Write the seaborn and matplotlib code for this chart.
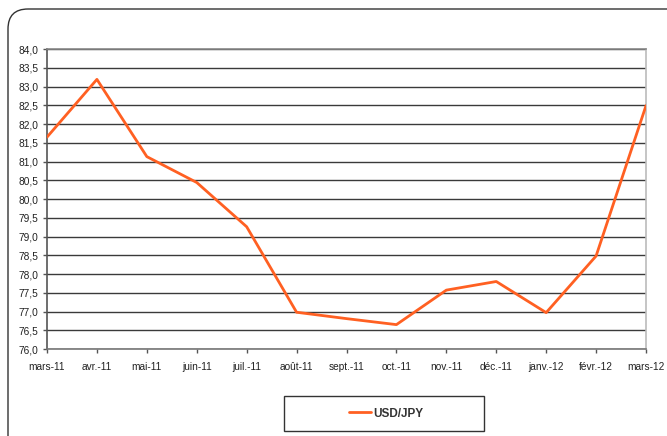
import matplotlib
matplotlib.use("Agg")
import numpy as np
import pandas as pd
import seaborn as sns
import matplotlib.pyplot as plt
from matplotlib.patches import FancyBboxPatch, Rectangle

# monthly USD/JPY values
months = ['mars-11', 'avr.-11', 'mai-11', 'juin-11', 'juil.-11', 'août-11', 'sept.-11',
          'oct.-11', 'nov.-11', 'déc.-11', 'janv.-12', 'févr.-12', 'mars-12']
usd_jpy = [81.65, 83.19, 81.13, 80.44, 79.26, 76.98, 76.81,
           76.65, 77.57, 77.80, 76.97, 78.48, 82.49]
y_ticks = np.arange(76.0, 84.01, 0.5)

df = pd.DataFrame({'idx': range(len(months)), 'USD/JPY': usd_jpy})

sns.set_style("white")
plt.rcParams['font.family'] = ['Liberation Sans', 'DejaVu Sans']

W, H = 667, 436
fig = plt.figure(figsize=(W / 100, H / 100), dpi=100)
ax = fig.add_axes([47 / W, 1 - 349 / H, (646 - 47) / W, 300 / H])

# rounded frame round the whole chart (cut off at right/bottom)
frame = FancyBboxPatch((8 / W, -0.05), 1.05, 1 - 9 / H + 0.05,
                       boxstyle="round,pad=0,rounding_size=0.03",
                       transform=fig.transFigure, fill=False,
                       edgecolor='#333333', linewidth=1.0, mutation_aspect=W / H)
fig.patches.append(frame)

# legend box
fig.patches.append(Rectangle((284 / W, 1 - 431 / H), 200 / W, 35 / H,
                             transform=fig.transFigure, fill=False,
                             edgecolor='#333333', linewidth=1.0))

for y in y_ticks:
    ax.axhline(y, color='#3a3a3a', linewidth=1.0, zorder=1)

sns.lineplot(data=df, x='idx', y='USD/JPY', color='#FF6022', linewidth=2.0,
             ax=ax, label='USD/JPY', zorder=3)

ax.set_xlim(0, len(months) - 1)
ax.set_ylim(76.0, 84.0)
ax.set_xticks(range(len(months)))
ax.set_xticklabels(months)
ax.set_yticks(y_ticks)
ax.set_yticklabels([f"{v:.1f}".replace('.', ',') for v in y_ticks])
ax.tick_params(axis='both', labelsize=7.3, length=3, width=1, direction='out')
ax.tick_params(axis='x', colors='#555555', labelcolor='#222222', pad=6)
ax.tick_params(axis='y', colors='#555555', labelcolor='#222222', pad=3)
ax.tick_params(bottom=True, left=True)
ax.set_xlabel('')
ax.set_ylabel('')

ax.spines['left'].set_color('#555555')
ax.spines['bottom'].set_color('#777777')
ax.spines['right'].set_color('#bbbbbb')
ax.spines['top'].set_color('#888888')
for s in ax.spines.values():
    s.set_linewidth(1.2)

leg = ax.legend(loc='center', bbox_to_anchor=((386 - 47) / 599, (349 - 413.5) / 300),
                frameon=False, handlelength=1.9, handletextpad=0.2,
                prop={'weight': 'bold', 'size': 8.5})
for t in leg.get_texts():
    t.set_color('#333333')

fig.savefig('out.png', dpi=100)
